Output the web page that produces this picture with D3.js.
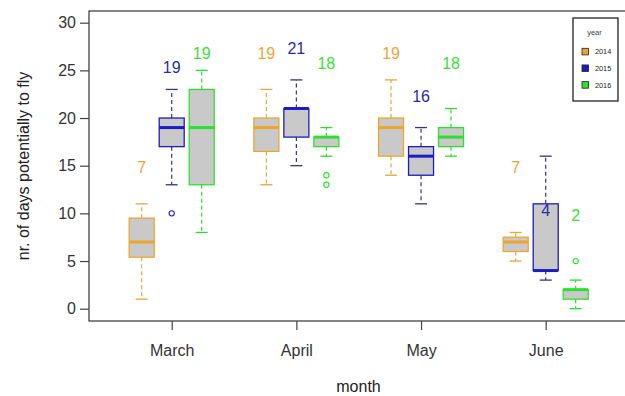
<!DOCTYPE html>
<html>
<head>
<meta charset="utf-8">
<script src="https://cdn.jsdelivr.net/npm/d3@7"></script>
<style>
  html, body { margin: 0; padding: 0; background: #fff; }
  svg { display: block; font-family: "Liberation Sans", Arial, sans-serif; }
</style>
</head>
<body>
<svg id="chart" width="625" height="396"></svg>
<script>
// ---- data ----
const months = ["March", "April", "May", "June"];
const years = ["2014", "2015", "2016"];
// each row: [lower whisker, Q1, median, Q3, upper whisker] per month
const box2014 = [[1, 5.4, 7, 9.5, 11], [13, 16.5, 19, 20, 23], [14, 16, 19, 20, 24], [5, 6, 7, 7.5, 8]];
const box2015 = [[13, 17, 19, 20, 23], [15, 18, 21, 21, 24], [11, 14, 16, 17, 19], [3, 4, 4, 11, 16]];
const box2016 = [[8, 13, 19, 23, 25], [16, 17, 18, 18, 19], [16, 17, 18, 19, 21], [0, 1, 2, 2, 3]];
const outlierYears = ["2015", "2016", "2016", "2016"];
const outlierMonths = ["March", "April", "April", "June"];
const outlierValues = [10, 14, 13, 5];
const yTicks = [0, 5, 10, 15, 20, 25, 30];

// ---- styles ----
const colors = { "2014": "#EEA52E", "2015": "#1C1CC4", "2016": "#2EE02E" };
const labelColors = { "2014": "#E9A53A", "2015": "#2B2BA6", "2016": "#3BDD3B" };
const whiskerColors = { "2014": "#E6A63A", "2015": "#34347F", "2016": "#33D633" };
const labelOffset = { "2014": 7.8, "2015": 6.3, "2016": 7.8 };

const svg = d3.select("#chart");
const plot = { left: 89, top: 11, right: 630, bottom: 321 };

const y = d3.scaleLinear().domain([0, 30]).range([308.7, 22.7]);
const x = d3.scalePoint().domain(months).range([171.7, 545.7]);
const xo = d3.scalePoint().domain(years).range([-30, 30]);
const boxW = 25, capW = 12;

const boxes = { "2014": box2014, "2015": box2015, "2016": box2016 };
const records = [];
years.forEach(yr => months.forEach((m, i) => {
  const s = boxes[yr][i];
  records.push({ year: yr, month: m, lo: s[0], q1: s[1], med: s[2], q3: s[3], hi: s[4] });
}));

// frame
svg.append("rect")
  .attr("x", plot.left).attr("y", plot.top)
  .attr("width", plot.right - plot.left).attr("height", plot.bottom - plot.top)
  .attr("fill", "none").attr("stroke", "#333").attr("stroke-width", 1.2);

// y axis
const yAxis = svg.append("g").attr("transform", `translate(${plot.left},0)`)
  .call(d3.axisLeft(y).tickValues(yTicks).tickSize(9).tickPadding(4));
yAxis.select(".domain").remove();
yAxis.selectAll("line").attr("stroke", "#444").attr("stroke-width", 1.2);
yAxis.selectAll("text").attr("font-size", 16).attr("fill", "#333")
  .attr("font-family", "'Liberation Sans', Arial, sans-serif");

// x axis
const xAxis = svg.append("g").attr("transform", `translate(0,${plot.bottom})`)
  .call(d3.axisBottom(x).tickSize(9).tickPadding(15));
xAxis.select(".domain").remove();
xAxis.selectAll("line").attr("stroke", "#444").attr("stroke-width", 1.2);
xAxis.selectAll("text").attr("font-size", 16).attr("fill", "#333")
  .attr("font-family", "'Liberation Sans', Arial, sans-serif");

// axis titles
svg.append("text").attr("x", 358.5).attr("y", 392)
  .attr("text-anchor", "middle").attr("font-size", 16).attr("fill", "#222").text("month");
svg.append("text").attr("transform", "translate(29,166) rotate(-90)")
  .attr("text-anchor", "middle").attr("font-size", 16).attr("fill", "#222")
  .text("nr. of days potentially to fly");

// boxes
const g = svg.append("g");
const groups = g.selectAll("g.box").data(records).join("g")
  .attr("class", "box")
  .attr("transform", d => `translate(${x(d.month) + xo(d.year)},0)`);

// whiskers (dashed)
groups.append("line").attr("x1", 0).attr("x2", 0)
  .attr("y1", d => y(d.q3)).attr("y2", d => y(d.hi))
  .attr("stroke", d => whiskerColors[d.year]).attr("stroke-width", 1.2).attr("stroke-dasharray", "4,3");
groups.append("line").attr("x1", 0).attr("x2", 0)
  .attr("y1", d => y(d.q1)).attr("y2", d => y(d.lo))
  .attr("stroke", d => whiskerColors[d.year]).attr("stroke-width", 1.2).attr("stroke-dasharray", "4,3");
// caps
groups.append("line").attr("x1", -capW / 2).attr("x2", capW / 2)
  .attr("y1", d => y(d.hi)).attr("y2", d => y(d.hi))
  .attr("stroke", d => whiskerColors[d.year]).attr("stroke-width", 1.3);
groups.append("line").attr("x1", -capW / 2).attr("x2", capW / 2)
  .attr("y1", d => y(d.lo)).attr("y2", d => y(d.lo))
  .attr("stroke", d => whiskerColors[d.year]).attr("stroke-width", 1.3);
// box
groups.append("rect").attr("x", -boxW / 2).attr("width", boxW)
  .attr("y", d => y(d.q3)).attr("height", d => y(d.q1) - y(d.q3))
  .attr("fill", "#C9C9C9").attr("stroke", d => colors[d.year]).attr("stroke-width", 1.3);
// median
groups.append("line").attr("x1", -boxW / 2).attr("x2", boxW / 2)
  .attr("y1", d => y(d.med)).attr("y2", d => y(d.med))
  .attr("stroke", d => colors[d.year]).attr("stroke-width", 3);
// median labels
groups.append("text").attr("x", 0)
  .attr("y", d => y(d.med + labelOffset[d.year]))
  .attr("dy", "0.36em").attr("text-anchor", "middle")
  .attr("font-size", 16).attr("fill", d => labelColors[d.year])
  .text(d => d.med);

// outliers
const outs = outlierValues.map((v, i) => ({ year: outlierYears[i], month: outlierMonths[i], value: v }));
svg.append("g").selectAll("circle").data(outs).join("circle")
  .attr("cx", d => x(d.month) + xo(d.year)).attr("cy", d => y(d.value))
  .attr("r", 2.6).attr("fill", "none")
  .attr("stroke", d => colors[d.year]).attr("stroke-width", 1.1);

// legend
const leg = svg.append("g");
leg.append("rect").attr("x", 573).attr("y", 18).attr("width", 45).attr("height", 83)
  .attr("fill", "#fff").attr("stroke", "#222").attr("stroke-width", 1.3);
leg.append("text").attr("x", 594.5).attr("y", 34.5).attr("text-anchor", "middle")
  .attr("font-size", 7.5).attr("fill", "#444").text("year");
const legY = d3.scalePoint().domain(years).range([51.7, 85]);
const li = leg.selectAll("g.li").data(years).join("g").attr("class", "li");
li.append("rect").attr("x", 582).attr("y", d => legY(d) - 3.4).attr("width", 6.6).attr("height", 6.6)
  .attr("fill", d => colors[d]).attr("stroke", "#222").attr("stroke-width", 0.8);
li.append("text").attr("x", 595).attr("y", d => legY(d)).attr("dy", "0.36em")
  .attr("font-size", 7.3).attr("fill", "#222").text(d => d);
</script>
</body>
</html>
